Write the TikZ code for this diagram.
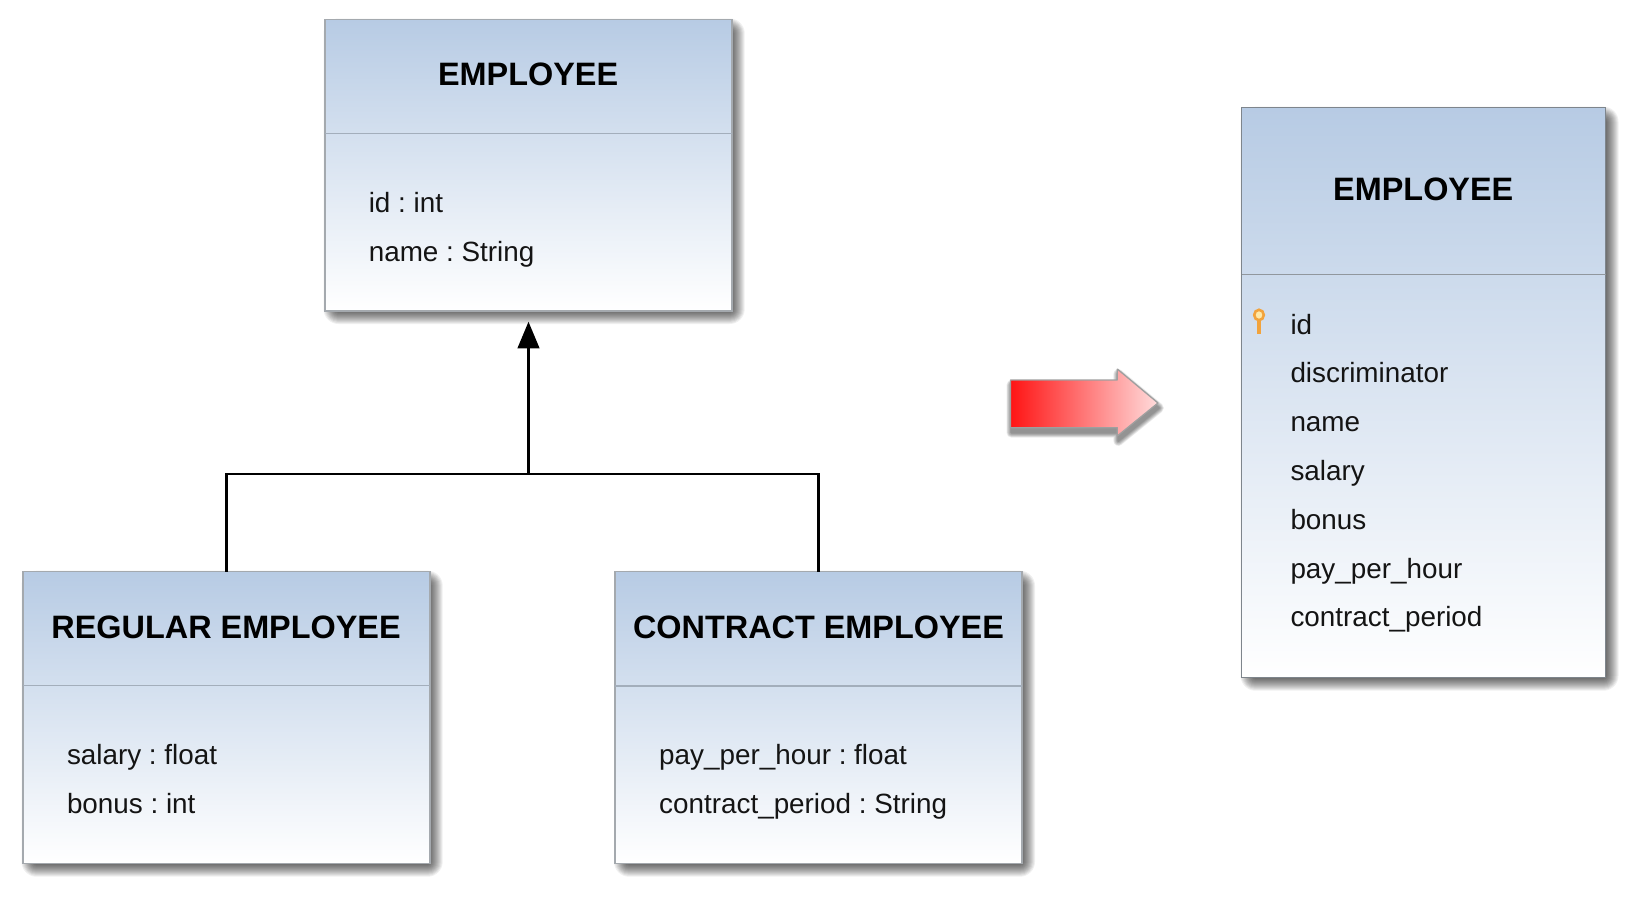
\documentclass[tikz,border=0pt]{standalone}
\usepackage{fontspec}
\setmainfont{Liberation Sans}
\usetikzlibrary{arrows.meta,calc}
\definecolor{hdrtop}{HTML}{B7CBE4}
\definecolor{boxline}{HTML}{A4A9AE}
\definecolor{tblline}{HTML}{7E858C}
\definecolor{sepline}{HTML}{A3AEBB}
\definecolor{inktext}{HTML}{141414}
\definecolor{arrowred}{HTML}{FF1414}
\definecolor{arrowpink}{HTML}{FFDCDC}
\definecolor{keyline}{HTML}{F2A33C}
\definecolor{keyfill}{HTML}{FFE9A8}
\frenchspacing
\newcommand{\softshadow}[4]{%
  \foreach \ee in {-7,...,7}{%
    \pgfmathsetmacro\rr{\ee+8}%
    \fill[black,opacity=.058,rounded corners=\rr pt]
      ({#1+6-\ee},{#2+6-\ee}) rectangle ({#3+6+\ee},{#4+6+\ee});
  }%
}
\newcommand{\arrowoutline}{(1010.4,380) -- (1117.3,380) -- (1117.3,369) -- (1158,403) -- (1117.3,436) -- (1117.3,427.7) -- (1010.4,427.7) -- cycle}
\tikzset{
  classbox/.style={rectangle,draw=boxline,line width=1.4pt,top color=hdrtop,bottom color=white,inner sep=0pt,outer sep=0pt},
  tablebox/.style={classbox,draw=tblline},
  titletext/.style={anchor=base,inner sep=0pt,text=black,font=\fontsize{32.4}{36}\selectfont\bfseries},
  attrtext/.style={anchor=base west,inner sep=0pt,text=inktext,font=\fontsize{27.85}{30}\selectfont},
  sepstroke/.style={draw=sepline,line width=1.5pt},
  connector/.style={draw=black,line width=2.7pt,line join=miter},
}
\begin{document}
\begin{tikzpicture}[x=1pt,y=-1pt]
\useasboundingbox (0,0) rectangle (1642,902);
\fill[white] (0,0) rectangle (1642,902);

% shadows
\softshadow{324.5}{19.5}{731.7}{311}
\softshadow{22.5}{571.7}{429.7}{863.7}
\softshadow{615}{571.7}{1022}{863.7}
\softshadow{1241.5}{107.7}{1605.5}{677.7}

% boxes
\node[classbox,minimum width=407.2pt,minimum height=291.5pt] (emp) at (528.5,165.25) {};
\node[classbox,minimum width=407.2pt,minimum height=292pt] (reg) at (226.4,717.7) {};
\node[classbox,minimum width=407pt,minimum height=292pt] (con) at (818.5,717.7) {};
\node[tablebox,minimum width=364pt,minimum height=570pt] (tbl) at (1423.5,392.7) {};

% separators
\coordinate (empsep) at (0,133.5);
\coordinate (regsep) at (0,685.7);
\coordinate (consep) at (0,686);
\coordinate (tblsep) at (0,274.6);
\draw[sepstroke] (emp.west |- empsep) -- (emp.east |- empsep);
\draw[sepstroke] (reg.west |- regsep) -- (reg.east |- regsep);
\draw[sepstroke] (con.west |- consep) -- (con.east |- consep);
\draw[sepstroke,draw=tblline!85!white] (tbl.west |- tblsep) -- (tbl.east |- tblsep);

% connectors
\coordinate (jn) at (528.5,474);
\draw[connector] (reg.north) |- (jn) -| (con.north);
\draw[connector,-{Triangle[length=26.6pt,width=21.5pt]},shorten >=10.7pt] (jn) -- (emp.south);

% texts
\node[titletext] (empT) at (528.1,85.7) {EMPLOYEE};
\node[attrtext] (empA) at (368.6,212.6) {id : int};
\node[attrtext] (empB) at (368.6,261) {name : String};

\node[titletext] (regT) at (226.1,638.3) {REGULAR EMPLOYEE};
\node[attrtext] (regA) at (66.8,764.3) {salary : float};
\node[attrtext] (regB) at (66.8,813.5) {bonus : int};

\node[titletext] (conT) at (818.5,638.3) {CONTRACT EMPLOYEE};
\node[attrtext] (conA) at (659,764.3) {pay\_per\_hour : float};
\node[attrtext] (conB) at (659,813.5) {contract\_period : String};

\node[titletext] (tblT) at (1423.25,200) {EMPLOYEE};
\node[attrtext] (tA) at (1290.3,334) {id};
\node[attrtext] (tB) at (1290.3,382.9) {discriminator};
\node[attrtext] (tC) at (1290.3,431.7) {name};
\node[attrtext] (tD) at (1290.3,480.5) {salary};
\node[attrtext] (tE) at (1290.3,529.3) {bonus};
\node[attrtext] (tF) at (1290.3,578) {pay\_per\_hour};
\node[attrtext] (tG) at (1290.3,626.7) {contract\_period};

% key icon
\draw[line width=4pt,draw=keyline] (1259,321) -- (1259,334);
\draw[line width=2.6pt,draw=keyline,fill=keyfill] (1259,315) ellipse[x radius=4.8,y radius=5.2];

% red arrow shadow
\foreach \ee in {1,...,7}{
  \begin{scope}[transparency group,opacity=.075]
    \draw[black,fill=black,line width=\ee*1.4pt,line join=round,shift={(1,5)}] \arrowoutline;
  \end{scope}
}
% red arrow
\path[left color=arrowred,right color=arrowpink] \arrowoutline;
\draw[draw=gray!75,line width=1.3pt,line join=bevel] \arrowoutline;
\end{tikzpicture}
\end{document}
